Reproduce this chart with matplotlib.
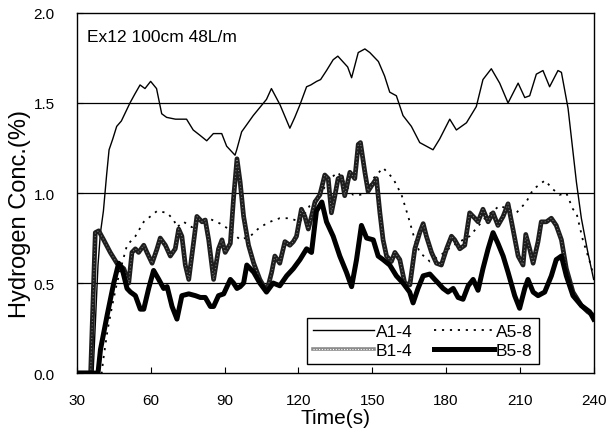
import matplotlib
matplotlib.use("Agg")
import matplotlib.pyplot as plt
from matplotlib.lines import Line2D

plt.rcParams['font.family'] = ['Liberation Sans', 'DejaVu Sans']

# A1-4 (thin solid)
t_a14 = [30, 36.5, 37.5, 38.5, 39.5, 40.7, 42, 43, 44.5, 46.1,
         48, 51.5, 53.5, 55.6, 57.6, 59.9, 62.3, 64.4, 66.4, 70,
         74.5, 77.2, 80, 82.7, 85.4, 88.8, 90.8, 94.2, 94.9, 96.9,
         99, 101.6, 104, 107, 109, 112.5, 116.5, 118.5, 120.6, 123.3,
         125, 127.4, 129, 131.4, 134.1, 136, 138, 140, 141.6, 144.3,
         147, 149, 152.5, 155, 157.1, 159.8, 162.5, 165.9, 169.3, 172,
         174.7, 177.4, 181.5, 184.2, 188.3, 192.3, 195, 198.4, 201.8, 205.2,
         209.3, 212, 214, 216.7, 219.4, 222.1, 225.5, 226.9, 229.6, 233,
         235, 237.5, 240]
c_a14 = [0, 0, 0.3, 0.6, 0.78, 0.9, 1.1, 1.24, 1.3, 1.37,
         1.4, 1.5, 1.55, 1.6, 1.58, 1.62, 1.58, 1.44, 1.42, 1.41,
         1.41, 1.35, 1.32, 1.29, 1.33, 1.33, 1.26, 1.21, 1.24, 1.34,
         1.38, 1.43, 1.47, 1.52, 1.58, 1.49, 1.36, 1.42, 1.49, 1.59,
         1.6, 1.62, 1.63, 1.68, 1.74, 1.76, 1.73, 1.7, 1.64, 1.78,
         1.8, 1.78, 1.73, 1.65, 1.56, 1.54, 1.43, 1.37, 1.28, 1.26,
         1.24, 1.3, 1.41, 1.35, 1.39, 1.48, 1.63, 1.69, 1.61, 1.5,
         1.61, 1.53, 1.54, 1.66, 1.68, 1.59, 1.68, 1.67, 1.47, 1.06,
         0.86, 0.68, 0.52]

# A5-8 (dotted)
t_a58 = [30, 40, 40.7, 42.4, 44.2, 46.2, 48.3, 50.3, 53.7, 57.1,
         62.5, 66.6, 69.3, 70.6, 73.3, 76.7, 79.4, 84.2, 88.2, 91.6,
         96.3, 100.4, 104.3, 108.4, 112.4, 116.5, 120.6, 124.6, 128.7, 132.8,
         136.1, 139.5, 142.2, 145, 147.6, 150.4, 154.4, 158.5, 161.9, 164.6,
         167.3, 169.3, 173.4, 177.4, 182.9, 189.6, 196.4, 201.8, 208.6, 212.6,
         215.4, 220.2, 223.5, 226.2, 228.9, 231.6, 233, 235.6, 238.4, 240]
c_a58 = [0, 0, 0.08, 0.24, 0.37, 0.5, 0.61, 0.71, 0.76, 0.84,
         0.9, 0.89, 0.85, 0.81, 0.84, 0.81, 0.85, 0.855, 0.83, 0.8,
         0.74, 0.76, 0.81, 0.84, 0.86, 0.86, 0.84, 0.93, 0.99, 1.08,
         1.115, 1.04, 0.99, 0.99, 1.0, 1.08, 1.14, 1.08, 0.99, 0.87,
         0.74, 0.67, 0.62, 0.65, 0.71, 0.76, 0.87, 0.93, 0.89, 0.95,
         1.02, 1.07, 1.02, 0.99, 1.0, 0.91, 0.89, 0.74, 0.62, 0.54]

# B1-4 (thick, speckled)
t_b14 = [30, 35.5, 37.4, 38.8, 40.8, 43.5, 46.2, 49, 51, 52.3,
         53.7, 55, 57.1, 58.4, 60.5, 62.5, 63.8, 65.9, 67.9, 69.9,
         71.3, 72.6, 74, 75.4, 77.4, 78.7, 80.8, 82.1, 83.5, 85.5,
         87.5, 88.9, 90.2, 92.3, 93.6, 95, 96.3, 97.7, 99.7, 101.8,
         104.3, 106.4, 107.7, 109.1, 110.4, 112.4, 114.5, 116.5, 117.9, 119.2,
         121.2, 122.6, 124, 125.3, 126.7, 128.7, 130.7, 132.1, 133.4, 134.8,
         136.1, 137.5, 138.8, 140.9, 142.9, 144.3, 145.2, 147, 148.3, 149.7,
         151.7, 153.1, 154.4, 155.8, 157.8, 159.2, 161.2, 163.2, 165.3, 167.3,
         169.3, 170.7, 172, 174.1, 176.1, 178.1, 180.2, 182.2, 183.5, 185.6,
         187.6, 189.6, 191.7, 193, 195, 197.1, 199.1, 201.1, 203.2, 205.2,
         207.2, 209.3, 211.3, 212.4, 214, 215.4, 217.4, 218.7, 220.8, 222.8,
         224.8, 226.9, 228.9, 231.6, 235, 237.7, 240]
c_b14 = [0, 0, 0.78, 0.79, 0.74, 0.67, 0.61, 0.58, 0.5, 0.67,
         0.69, 0.67, 0.71, 0.67, 0.61, 0.69, 0.75, 0.71, 0.65, 0.69,
         0.8, 0.76, 0.6, 0.52, 0.73, 0.87, 0.84, 0.85, 0.74, 0.52,
         0.69, 0.74, 0.67, 0.72, 0.97, 1.19, 1.06, 0.87, 0.71, 0.61,
         0.52, 0.47, 0.485, 0.56, 0.65, 0.61, 0.73, 0.71, 0.73, 0.76,
         0.91, 0.87, 0.8, 0.87, 0.95, 0.99, 1.1, 1.08, 0.89, 0.985,
         1.08, 1.09, 0.985, 1.115, 1.08, 1.27, 1.28, 1.115, 1.01, 1.04,
         1.08, 0.89, 0.74, 0.65, 0.62, 0.67, 0.63, 0.5, 0.49, 0.69,
         0.78, 0.83, 0.76, 0.67, 0.61, 0.6, 0.69, 0.76, 0.74, 0.69,
         0.71, 0.89, 0.86, 0.84, 0.91, 0.84, 0.89, 0.82, 0.87, 0.94,
         0.8, 0.65, 0.6, 0.77, 0.69, 0.61, 0.73, 0.84, 0.84, 0.86,
         0.82, 0.74, 0.58, 0.45, 0.375, 0.34, 0.32]

# B5-8 (thick black)
t_b58 = [30, 38.5, 39.5, 42.2, 44.9, 46.9, 48.3, 50.3, 51.7, 53.7,
         55.7, 57.1, 59.1, 61.1, 63.2, 65.2, 66.6, 68.6, 70.6, 72.6,
         75.4, 78.1, 80.1, 82.1, 84.2, 85.5, 87.5, 89.6, 92.3, 93.6,
         95, 96.3, 97.7, 99, 101.8, 104.3, 107, 109.7, 112.4, 115.2,
         117.9, 120.6, 123.3, 125.3, 127.3, 129.5, 131.4, 134.1, 136.8, 139.5,
         141.6, 143.6, 145.6, 147.7, 150.4, 152.4, 154.4, 157.1, 159.8, 162.5,
         165.2, 166.6, 168.6, 170.7, 173.4, 175.4, 176.8, 178.8, 180.8, 182.9,
         184.9, 186.9, 189, 191, 193, 195, 197.1, 199.1, 201.1, 203.2,
         205.2, 207.9, 209.9, 212, 213.3, 215.4, 217.4, 220.1, 222.8, 224.8,
         226.9, 228.9, 231.6, 235, 238.4, 240]
c_b58 = [0, 0, 0.13, 0.32, 0.5, 0.61, 0.58, 0.47, 0.45, 0.43,
         0.355, 0.355, 0.47, 0.57, 0.52, 0.47, 0.48, 0.37, 0.3, 0.43,
         0.44, 0.43, 0.42, 0.42, 0.37, 0.37, 0.43, 0.44, 0.52, 0.5,
         0.47, 0.48, 0.5, 0.6, 0.56, 0.5, 0.45, 0.5, 0.485, 0.54,
         0.58, 0.63, 0.69, 0.67, 0.9, 0.95, 0.84, 0.76, 0.65, 0.56,
         0.48, 0.63, 0.82, 0.75, 0.74, 0.65, 0.63, 0.6, 0.54, 0.5,
         0.45, 0.39, 0.47, 0.54, 0.55, 0.52, 0.5, 0.47, 0.45, 0.47,
         0.42, 0.41, 0.485, 0.52, 0.46, 0.58, 0.69, 0.78, 0.72, 0.65,
         0.56, 0.43, 0.36, 0.47, 0.52, 0.45, 0.43, 0.45, 0.54, 0.63,
         0.65, 0.54, 0.43, 0.375, 0.34, 0.3]

x_ticks = [30, 60, 90, 120, 150, 180, 210, 240]
y_ticks = [0.0, 0.5, 1.0, 1.5, 2.0]

fig = plt.figure(figsize=(6.07, 4.35), dpi=100)
ax = fig.add_axes([0.127, 0.140, 0.851, 0.828])

for yg in [0.5, 1.0, 1.5]:
    ax.axhline(yg, color="black", linewidth=0.9, zorder=1)

dots = (0, (1.2, 3.2))
ax.plot(t_a14, c_a14, color="black", linewidth=1.0, zorder=3)
ax.plot(t_a58, c_a58, color="black", linewidth=1.3, linestyle=dots, zorder=3)
ax.plot(t_b14, c_b14, color="#1e1e1e", linewidth=3.4, solid_joinstyle="round", zorder=4)
ax.plot(t_b14, c_b14, color="#8c8c8c", linewidth=0.7, linestyle=(0, (1, 2.5)), zorder=5)
ax.plot(t_b58, c_b58, color="black", linewidth=3.6, solid_joinstyle="round", zorder=6)

ax.set_xlim(30, 240)
ax.set_ylim(0, 2.0)
ax.set_xticks(x_ticks)
ax.set_yticks(y_ticks)
ax.set_yticklabels(["%.1f" % v for v in y_ticks])
ax.tick_params(direction="in", length=4, width=0.8, labelsize=11)
ax.tick_params(axis="x", pad=14)
ax.tick_params(axis="y", pad=16)
for s in ax.spines.values():
    s.set_linewidth(1.0)

ax.set_xlabel("Time(s)", fontsize=15, labelpad=1)
fig.text(20 / 607, 1 - 214 / 435, "Hydrogen Conc.(%)", rotation=90,
         fontsize=17, ha="center", va="center")
ax.text(0.02, 0.935, "Ex12 100cm 48L/m", transform=ax.transAxes,
        fontsize=12.5, va="center", ha="left")

# legend handles
h_a14 = Line2D([], [], color="black", linewidth=1.0)
h_a58 = Line2D([], [], color="black", linewidth=1.3, linestyle=dots)
h_b14a = Line2D([], [], color="#8a8a8a", linewidth=2.6)
h_b14b = Line2D([], [], color="white", linewidth=0.8, linestyle=(0, (1, 1.5)))
h_b58 = Line2D([], [], color="black", linewidth=3.6)
leg = ax.legend([h_a14, (h_b14a, h_b14b), h_a58, h_b58],
                ["A1-4", "B1-4", "A5-8", "B5-8"],
                ncol=2, loc="lower right", bbox_to_anchor=(0.894, 0.025),
                fontsize=12.5, handlelength=3.5, handletextpad=0.1,
                columnspacing=1.2, labelspacing=0.2, borderpad=0.35,
                borderaxespad=0, fancybox=False, framealpha=1, edgecolor="black")
leg.get_frame().set_linewidth(1.0)
leg.set_zorder(10)

fig.savefig("out.png", dpi=100)
